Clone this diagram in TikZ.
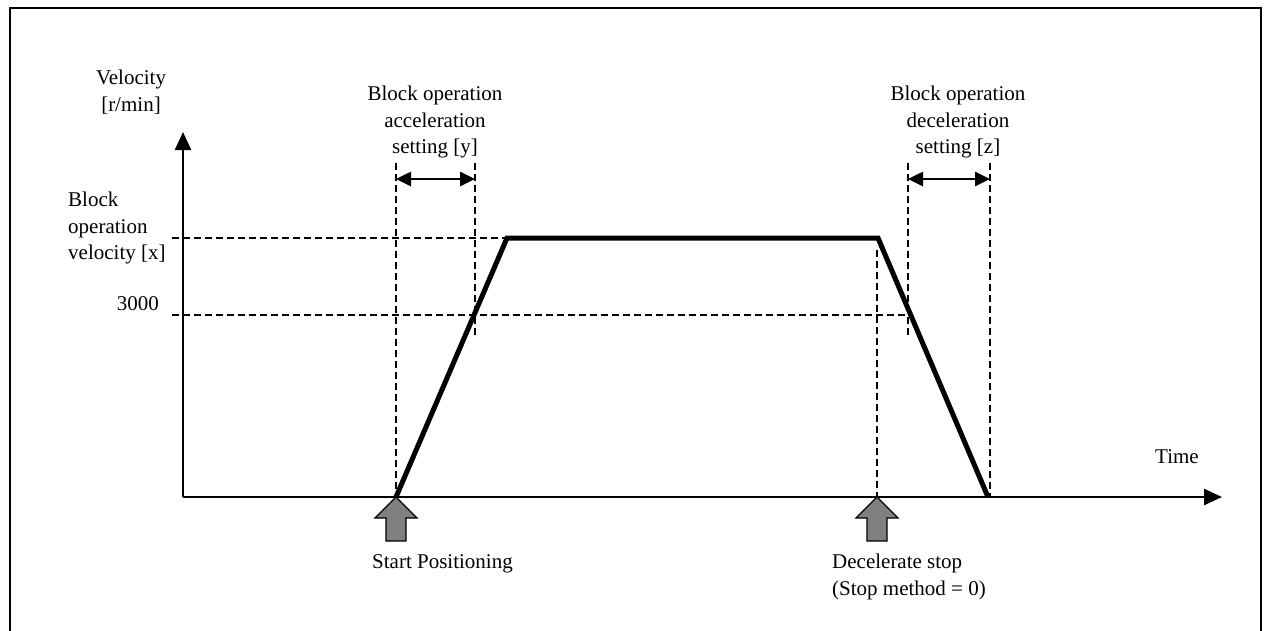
\documentclass[tikz,border=0pt]{standalone}
\usepackage{fontspec}
\setmainfont{Liberation Serif}
\usetikzlibrary{arrows.meta}
\begin{document}
\begin{tikzpicture}[x=1pt,y=-1pt,
  lbl/.style={font=\fontsize{21}{26.5}\selectfont, inner sep=0pt, align=center},
  axis/.style={line width=2.4pt, -{Triangle[length=18pt,width=16pt]}},
  guide/.style={line width=1.4pt, dash pattern=on 7pt off 4pt},
  profile/.style={line width=5pt, line join=miter},
  span/.style={line width=2.6pt, {Triangle[length=15pt,width=14pt]}-{Triangle[length=15pt,width=14pt]}},
  trigger/.style={fill=black!50, draw=black, line width=1.3pt, line join=miter}]
\useasboundingbox (0,0) rectangle (1264,630);
% outer frame, open at the bottom
\draw[line width=2pt] (10,631) -- (10,8) -- (1261,8) -- (1261,631);

% key points
\coordinate (O) at (183,497);
\coordinate (Ytip) at (183,132);
\coordinate (Xtip) at (1222,497);
\coordinate (P0) at (396,497);
\coordinate (P1) at (507,238);
\coordinate (P2) at (878,238);
\coordinate (P3) at (988,497);

% guide lines
\draw[guide] (172,238) -- (P1);
\draw[guide] (172,315) -- (908,315);
\draw[guide] (396,163) -- (P0);
\draw[guide] (475,163) -- (475,338);
\draw[guide] (877,250) -- (877,497);
\draw[guide] (908,163) -- (908,338);
\draw[guide] (990,163) -- (990,497);

% axes
\draw[axis] (O) -- (Ytip);
\draw[axis] (O) -- (Xtip);

% velocity profile
\draw[profile] (P0) -- (P1) -- (P2) -- (P3);

% setting spans
\coordinate (a1) at (396,179);
\coordinate (a2) at (475,179);
\coordinate (d1) at (908,179);
\coordinate (d2) at (990,179);
\draw[span] (a1) -- (a2);
\draw[span] (d1) -- (d2);

% trigger arrows
\draw[trigger] (P0) -- ++(21,21) -- ++(-11,0) -- ++(0,23) -- ++(-20,0) -- ++(0,-23) -- ++(-11,0) -- cycle;
\coordinate (S0) at (877,497);
\draw[trigger] (S0) -- ++(21,21) -- ++(-11,0) -- ++(0,23) -- ++(-20,0) -- ++(0,-23) -- ++(-11,0) -- cycle;

% labels
\node[lbl] (vel) at (131,92) {Velocity\\{[r/min]}};
\node[lbl, align=left, anchor=west] (vx) at (68,228) {Block\\operation\\velocity [x]};
\node[lbl, anchor=east] (v3000) at (159,304) {3000};
\node[lbl] (acc) at (435,122) {Block operation\\acceleration\\setting [y]};
\node[lbl] (dec) at (958,122) {Block operation\\deceleration\\setting [z]};
\node[lbl] (time) at (1177,457) {Time};
\node[lbl, anchor=west] (start) at (372,564) {Start Positioning};
\node[lbl, align=left, anchor=west] (stop) at (832,577) {Decelerate stop\\(Stop method = 0)};
\end{tikzpicture}
\end{document}
